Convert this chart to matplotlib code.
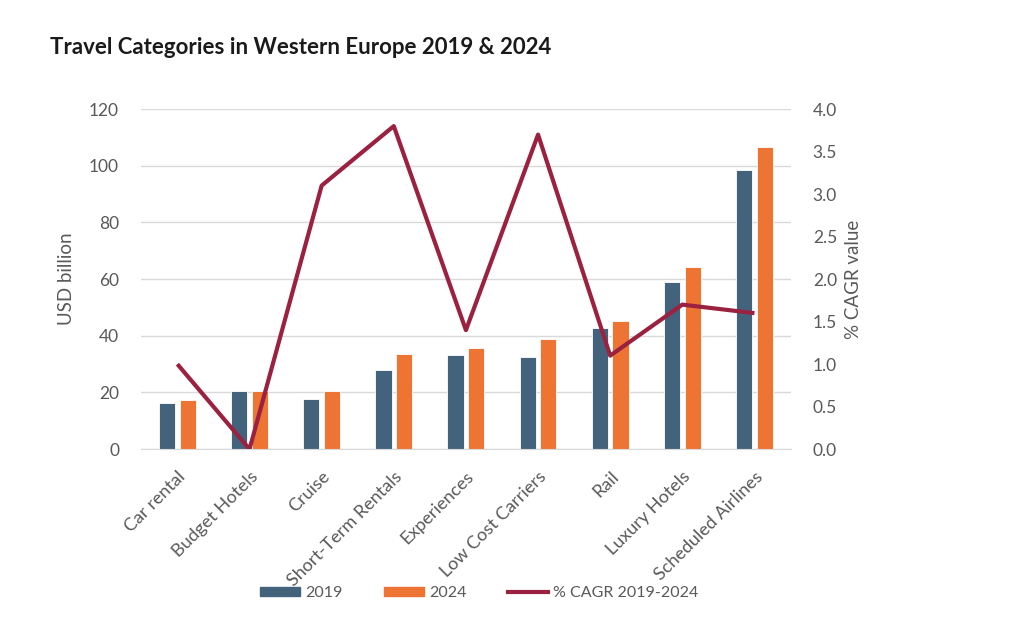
import numpy as np
import matplotlib
matplotlib.use("Agg")
import matplotlib.pyplot as plt
from matplotlib.lines import Line2D
from matplotlib.patches import Patch

# data
categories = ['Car rental', 'Budget Hotels', 'Cruise', 'Short-Term Rentals', 'Experiences',
              'Low Cost Carriers', 'Rail', 'Luxury Hotels', 'Scheduled Airlines']
usd_2019 = [16.2, 20.5, 17.6, 27.9, 33.2, 32.4, 42.6, 59.1, 98.5]
usd_2024 = [17.2, 20.5, 20.6, 33.5, 35.6, 38.7, 45.2, 64.4, 106.8]
cagr = [1.0, 0.0, 3.1, 3.8, 1.4, 3.7, 1.1, 1.7, 1.6]

blue = '#43637D'
orange = '#EE7433'
red = '#9A2240'
grey = '#595959'

plt.rcParams['font.family'] = ['Lato', 'DejaVu Sans']

fig = plt.figure(figsize=(10.24, 6.38), dpi=100)
ax = fig.add_axes([0.138, 0.296, 0.634, 0.533])
x = np.arange(len(categories))
w = 0.225
ax.bar(x - 0.143, usd_2019, w, color=blue, edgecolor='white', linewidth=0.6, zorder=2)
ax.bar(x + 0.143, usd_2024, w, color=orange, edgecolor='white', linewidth=0.6, zorder=2)
ax.set_xlim(-0.5, len(categories) - 0.5)
ax.set_ylim(0, 120)
ax.set_yticks(range(0, 121, 20))
ax.yaxis.grid(True, color='#D9D9D9', linewidth=1)
ax.set_axisbelow(True)
for s in ['top', 'right', 'left']:
    ax.spines[s].set_visible(False)
ax.spines['bottom'].set_color('#D9D9D9')
ax.tick_params(axis='both', length=0, colors=grey, labelsize=12.5)
ax.tick_params(axis='y', pad=16)
ax.tick_params(axis='x', pad=14, labelsize=13)
ax.set_xticks(x)
ax.set_xticklabels(categories, rotation=45, ha='right', rotation_mode='anchor')
ax.set_ylabel('USD billion', color=grey, fontsize=13.5, labelpad=10)

ax2 = ax.twinx()
ax2.plot(x, cagr, color=red, linewidth=3, solid_capstyle='butt', zorder=3)
ax2.set_ylim(0, 4.0)
ax2.set_yticks(np.arange(0, 4.01, 0.5))
ax2.set_yticklabels([f'{v:.1f}' for v in np.arange(0, 4.01, 0.5)])
for s in ['top', 'right', 'left', 'bottom']:
    ax2.spines[s].set_visible(False)
ax2.tick_params(axis='y', length=0, colors=grey, labelsize=12.5, pad=16)
ax2.set_ylabel('% CAGR value', color=grey, fontsize=13.5, labelpad=6)

fig.text(0.049, 0.926, 'Travel Categories in Western Europe 2019 & 2024',
         fontsize=16, fontweight='bold', color='#1a1a1a', va='center')

handles = [Patch(color=blue, label='2019'), Patch(color=orange, label='2024'),
           Line2D([0], [0], color=red, linewidth=3, label='% CAGR 2019-2024')]
fig.legend(handles=handles, loc='center', bbox_to_anchor=(0.468, 0.07), ncol=3,
           frameon=False, fontsize=11.5, labelcolor=grey, handlelength=2.5,
           handleheight=0.5, columnspacing=2.6, handletextpad=0.3)

fig.savefig('out.png', dpi=100)
